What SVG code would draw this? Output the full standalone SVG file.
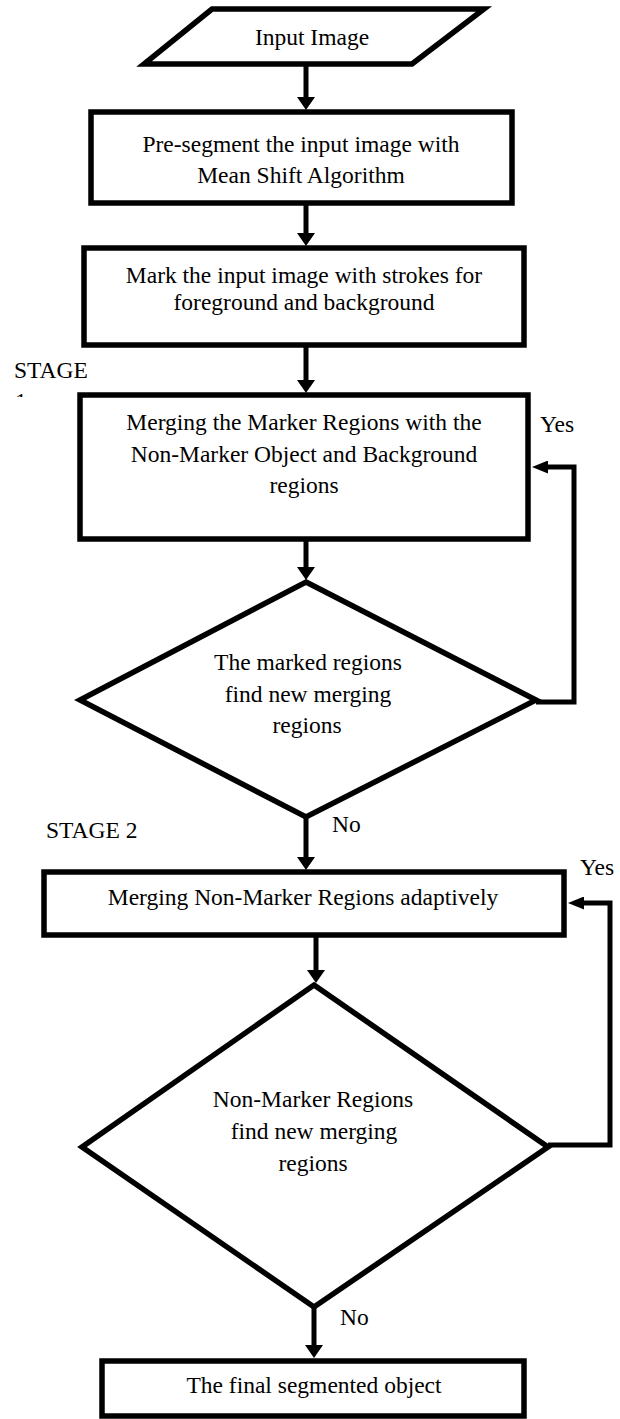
<svg xmlns="http://www.w3.org/2000/svg" width="620" height="1419" viewBox="0 0 620 1419" font-family="'Liberation Serif', 'DejaVu Serif', 'Times New Roman', Times, serif">
<style>
.shape{fill:#fff;stroke:#000;stroke-width:5.5;stroke-linejoin:miter}
.t{font-family:'Liberation Serif','DejaVu Serif','Times New Roman',Times,serif;font-size:23.5px;fill:#000;text-anchor:middle}
.l{font-family:'Liberation Serif','DejaVu Serif','Times New Roman',Times,serif;font-size:23.5px;fill:#000}
.c{fill:none;stroke:#000;stroke-width:5;stroke-linejoin:miter}
</style>
<defs>
<marker id="av" markerUnits="userSpaceOnUse" viewBox="0 0 13 18" markerWidth="13" markerHeight="18" refX="0" refY="9" orient="auto"><path d="M0,0 L13,9 L0,18 Z" fill="#000"/></marker>
<marker id="ah" markerUnits="userSpaceOnUse" viewBox="0 0 16 13" markerWidth="16" markerHeight="13" refX="0" refY="6.5" orient="auto"><path d="M0,0 L16,6.5 L0,13 Z" fill="#000"/></marker>
<clipPath id="clip1"><rect x="0" y="380" width="80" height="17"/></clipPath>
</defs>
<g id="connectors">
<line class="c" x1="306" y1="64" x2="306" y2="97" marker-end="url(#av)"/>
<line class="c" x1="306" y1="203" x2="306" y2="233" marker-end="url(#av)"/>
<line class="c" x1="306" y1="345" x2="306" y2="380" marker-end="url(#av)"/>
<line class="c" x1="306" y1="539" x2="306" y2="567" marker-end="url(#av)"/>
<line class="c" x1="306" y1="817" x2="306" y2="857" marker-end="url(#av)"/>
<line class="c" x1="316" y1="935" x2="316" y2="970" marker-end="url(#av)"/>
<line class="c" x1="314" y1="1307" x2="314" y2="1345" marker-end="url(#av)"/>
<path class="c" d="M536,702 H574 V467 H548" marker-end="url(#ah)"/>
<path class="c" d="M548,1145 H610 V903 H584" marker-end="url(#ah)"/>
<text class="l" x="540" y="432">Yes</text>
<text class="l" x="332" y="832">No</text>
<text class="l" x="580" y="875">Yes</text>
<text class="l" x="340" y="1325">No</text>
</g>
<g id="stage1">
<text class="l" x="14" y="378">STAGE</text>
<text class="l" x="15" y="409" clip-path="url(#clip1)">1</text>
</g>
<g id="stage2"><text class="l" x="46" y="838">STAGE 2</text></g>
<g id="input">
<polygon class="shape" points="212,9 484,9 412,64 144,64"/>
<text class="t" x="312" y="45">Input Image</text>
</g>
<g id="presegment">
<rect class="shape" x="91" y="112" width="421" height="91"/>
<text class="t" x="301" y="152">Pre-segment the input image with</text>
<text class="t" x="301" y="183">Mean Shift Algorithm</text>
</g>
<g id="mark">
<rect class="shape" x="84" y="248" width="440" height="97"/>
<text class="t" x="304" y="283">Mark the input image with strokes for</text>
<text class="t" x="304" y="310">foreground and background</text>
</g>
<g id="merge1">
<rect class="shape" x="80" y="395" width="448" height="144"/>
<text class="t" x="304" y="430">Merging the Marker Regions with the</text>
<text class="t" x="304" y="462">Non-Marker Object and Background</text>
<text class="t" x="304" y="493">regions</text>
</g>
<g id="decision1">
<polygon class="shape" points="306,582 536,700 306,817 80,700"/>
<text class="t" x="308" y="670">The marked regions</text>
<text class="t" x="308" y="702">find new merging</text>
<text class="t" x="307" y="733">regions</text>
</g>
<g id="merge2">
<rect class="shape" x="44" y="872" width="520" height="63"/>
<text class="t" x="303" y="905">Merging Non-Marker Regions adaptively</text>
</g>
<g id="decision2">
<polygon class="shape" points="314,985 548,1147 314,1307 82,1147"/>
<text class="t" x="313" y="1107">Non-Marker Regions</text>
<text class="t" x="314" y="1139">find new merging</text>
<text class="t" x="313" y="1171">regions</text>
</g>
<g id="final">
<rect class="shape" x="102" y="1361" width="422" height="55"/>
<text class="t" x="314" y="1393">The final segmented object</text>
</g>
</svg>
